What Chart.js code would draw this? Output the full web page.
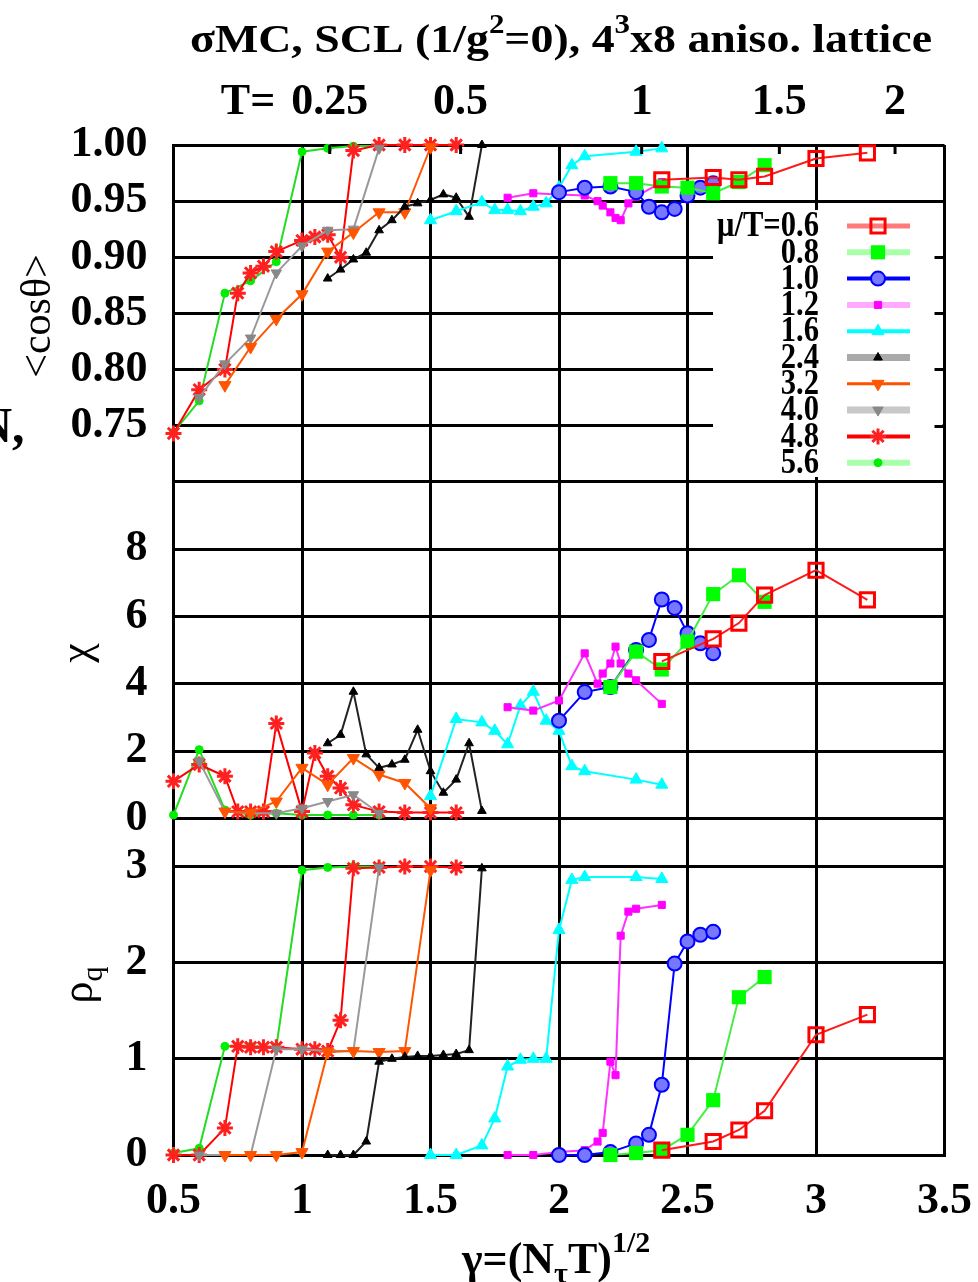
<!DOCTYPE html>
<html>
<head>
<meta charset="utf-8">
<script src="https://cdn.jsdelivr.net/npm/chart.js@4.4.1/dist/chart.umd.min.js"></script>
<style>
  html, body { margin: 0; padding: 0; background: #fff; }
  canvas { display: block; }
</style>
</head>
<body>
<canvas id="chart" width="978" height="1282"></canvas>
<script>
// ---------------------
// DATA
// ---------------------
const muLabels = ['0.6', '0.8', '1.0', '1.2', '1.6', '2.4', '3.2', '4.0', '4.8', '5.6'];
const tTicks = [0.25, 0.5, 1, 1.5, 2];

// mu/T = 0.6
const g06   = [2.4, 2.6, 2.7, 2.8, 3.0, 3.2];
const cos06 = [0.969, 0.971, 0.969, 0.972, 0.988, 0.993];
const chi06 = [4.66, 5.33, 5.8, 6.63, 7.37, 6.49];
const rho06 = [0.05, 0.14, 0.26, 0.46, 1.25, 1.46];

// mu/T = 0.8
const g08   = [2.2, 2.3, 2.4, 2.5, 2.6, 2.7, 2.8];
const cos08 = [0.966, 0.966, 0.963, 0.962, 0.957, 0.967, 0.982];
const chi08 = [3.9, 4.95, 4.42, 5.25, 6.66, 7.22, 6.43];
const rho08 = [0.0, 0.02, 0.05, 0.21, 0.57, 1.64, 1.85];

// mu/T = 1.0
const g10   = [2.0, 2.1, 2.2, 2.3, 2.35, 2.4, 2.45, 2.5, 2.55, 2.6];
const cos10 = [0.958, 0.962, 0.963, 0.958, 0.945, 0.940, 0.943, 0.955, 0.962, 0.966];
const chi10 = [2.9, 3.75, 3.9, 5.0, 5.3, 6.5, 6.25, 5.5, 5.2, 4.9];
const rho10 = [0.0, 0.0, 0.03, 0.12, 0.21, 0.73, 1.99, 2.22, 2.29, 2.32];

// mu/T = 1.2
const g12   = [1.8, 1.9, 2.0, 2.1, 2.15, 2.17, 2.2, 2.22, 2.24, 2.27, 2.3, 2.4];
const cos12 = [0.953, 0.957, 0.956, 0.955, 0.950, 0.946, 0.940, 0.935, 0.933, 0.948, 0.954, 0.967];
const chi12 = [3.3, 3.2, 3.5, 4.9, 4.0, 4.3, 4.6, 5.1, 4.6, 4.3, 4.1, 3.4];
const rho12 = [0.0, 0.0, 0.03, 0.05, 0.14, 0.23, 0.97, 0.83, 2.28, 2.53, 2.56, 2.6];

// mu/T = 1.6
const g16   = [1.5, 1.6, 1.7, 1.75, 1.8, 1.85, 1.9, 1.95, 2.0, 2.05, 2.1, 2.3, 2.4];
const cos16 = [0.933, 0.941, 0.949, 0.942, 0.942, 0.941, 0.945, 0.948, 0.962, 0.982, 0.990, 0.994, 0.997];
const chi16 = [0.66, 2.95, 2.85, 2.6, 2.2, 3.35, 3.76, 2.9, 2.6, 1.55, 1.4, 1.15, 1.0];
const rho16 = [0.0, 0.0, 0.10, 0.38, 0.92, 0.99, 1.0, 1.0, 2.34, 2.86, 2.89, 2.89, 2.87];

// mu/T = 2.4
const g24   = [1.1, 1.15, 1.2, 1.25, 1.3, 1.35, 1.4, 1.45, 1.5, 1.55, 1.6, 1.65, 1.7];
const cos24 = [0.881, 0.889, 0.898, 0.904, 0.924, 0.933, 0.945, 0.948, 0.951, 0.956, 0.953, 0.936, 1.0];
const chi24 = [2.23, 2.48, 3.76, 1.9, 1.5, 1.6, 1.74, 2.63, 1.4, 0.76, 1.15, 2.23, 0.22];
const rho24 = [0.0, 0.0, 0.0, 0.14, 0.97, 1.0, 1.02, 1.03, 1.03, 1.04, 1.05, 1.09, 2.98];

// mu/T = 3.2
const g32   = [0.7, 0.8, 0.9, 1.0, 1.1, 1.2, 1.3, 1.4, 1.5];
const cos32 = [0.786, 0.82, 0.845, 0.867, 0.905, 0.922, 0.94, 0.94, 0.998];
const chi32 = [0.2, 0.17, 0.5, 1.5, 1.0, 1.79, 1.3, 1.05, 0.3];
const rho32 = [0.0, 0.0, 0.0, 0.03, 1.07, 1.08, 1.07, 1.08, 2.96];

// mu/T = 4.0
const g40   = [0.6, 0.7, 0.8, 0.9, 1.0, 1.1, 1.2, 1.3];
const cos40 = [0.775, 0.805, 0.828, 0.886, 0.91, 0.924, 0.925, 0.997];
const chi40 = [1.7, 0.2, 0.15, 0.15, 0.3, 0.5, 0.7, 0.15];
const rho40 = [0.0, 0.0, 0.0, 1.1, 1.1, 1.08, 1.08, 2.99];

// mu/T = 4.8
const g48   = [0.5, 0.6, 0.7, 0.75, 0.8, 0.85, 0.9, 1.0, 1.05, 1.1, 1.15, 1.2, 1.3, 1.4, 1.5, 1.6];
const cos48 = [0.743, 0.782, 0.800, 0.868, 0.886, 0.892, 0.905, 0.915, 0.918, 0.92, 0.90, 0.995, 1.0, 1.0, 1.0, 1.0];
const chi48 = [1.1, 1.6, 1.25, 0.2, 0.2, 0.2, 2.82, 0.2, 1.94, 1.25, 0.9, 0.4, 0.2, 0.17, 0.17, 0.17];
const rho48 = [0.0, 0.0, 0.28, 1.13, 1.12, 1.12, 1.12, 1.1, 1.1, 1.08, 1.4, 2.98, 2.99, 3.0, 3.0, 2.99];

// mu/T = 5.6
const g56   = [0.5, 0.6, 0.7, 0.8, 0.9, 1.0, 1.1, 1.2, 1.3];
const cos56 = [0.744, 0.772, 0.868, 0.879, 0.896, 0.994, 0.997, 0.999, 0.999];
const chi56 = [0.1, 2.04, 0.25, 0.1, 0.15, 0.1, 0.1, 0.1, 0.1];
const rho56 = [0.02, 0.07, 1.13, 1.13, 1.12, 2.96, 2.99, 3.0, 3.0];

const series = [
  { mu: '0.6', g: g06, cos: cos06, chi: chi06, rho: rho06 },
  { mu: '0.8', g: g08, cos: cos08, chi: chi08, rho: rho08 },
  { mu: '1.0', g: g10, cos: cos10, chi: chi10, rho: rho10 },
  { mu: '1.2', g: g12, cos: cos12, chi: chi12, rho: rho12 },
  { mu: '1.6', g: g16, cos: cos16, chi: chi16, rho: rho16 },
  { mu: '2.4', g: g24, cos: cos24, chi: chi24, rho: rho24 },
  { mu: '3.2', g: g32, cos: cos32, chi: chi32, rho: rho32 },
  { mu: '4.0', g: g40, cos: cos40, chi: chi40, rho: rho40 },
  { mu: '4.8', g: g48, cos: cos48, chi: chi48, rho: rho48 },
  { mu: '5.6', g: g56, cos: cos56, chi: chi56, rho: rho56 }
];

// ---------------------
// STYLES
// ---------------------
const styles = {
  '0.6': { line: '#ff1a1a', mark: '#ff0000', fill: 'rgba(0,0,0,0)', point: 'rect', r: 10, bw: 3, legLine: '#ff7a7a', legW: 5 },
  '0.8': { line: '#44ee44', mark: '#00ff00', fill: '#00ff00', point: 'rect', r: 10, bw: 0, legLine: '#aaffaa', legW: 6 },
  '1.0': { line: '#0000ff', mark: '#0000ff', fill: '#7777ff', point: 'circle', r: 7, bw: 2, legLine: '#0000ff', legW: 4 },
  '1.2': { line: '#ff33ff', mark: '#ff00ff', fill: '#ff00ff', point: 'rect', r: 5, bw: 1, legLine: '#ffaaff', legW: 6 },
  '1.6': { line: '#00ffff', mark: '#00ffff', fill: '#00ffff', point: 'triangle', r: 7, bw: 1, legLine: '#00ffff', legW: 4 },
  '2.4': { line: '#222222', mark: '#000000', fill: '#000000', point: 'triangle', r: 5, bw: 1, legLine: '#aaaaaa', legW: 7 },
  '3.2': { line: '#ff5500', mark: '#ff5500', fill: '#ff5500', point: 'triangle', rot: 180, r: 7, bw: 1, legLine: '#ff5000', legW: 3 },
  '4.0': { line: '#999999', mark: '#888888', fill: '#888888', point: 'triangle', rot: 180, r: 6, bw: 1, legLine: '#c8c8c8', legW: 7 },
  '4.8': { line: '#ff0000', mark: '#ff2020', fill: '#ff2020', point: 'star', r: 8, bw: 3, legLine: '#ff0000', legW: 4 },
  '5.6': { line: '#22dd22', mark: '#00ee00', fill: '#00ee00', point: 'circle', r: 4, bw: 1, legLine: '#aaffaa', legW: 6 }
};

const SERIF = '"Liberation Serif", "Times New Roman", serif';
const tickFont = { family: SERIF, size: 44, weight: 'bold' };

// top axis: temperature T placed on the gamma axis
const gammaOfT = T => Math.sqrt(5.55 * T - 0.16);

// ---------------------
// DATASETS
// ---------------------
const panels = [['yTop', 'cos'], ['yMid', 'chi'], ['yBot', 'rho']];
const datasets = [];
series.forEach(s => {
  const st = styles[s.mu];
  panels.forEach(([axis, key]) => {
    datasets.push({
      label: s.mu + ' ' + key,
      yAxisID: axis,
      data: s.g.map((g, i) => ({ x: g, y: s[key][i] })),
      borderColor: st.line,
      borderWidth: 2,
      pointStyle: st.point,
      pointRadius: st.r,
      pointRotation: st.rot || 0,
      pointBorderColor: st.mark,
      pointBackgroundColor: st.fill,
      pointBorderWidth: st.bw,
      tension: 0,
      fill: false,
      clip: false
    });
  });
});

function yAxis(min, max, step, labelFn) {
  return {
    type: 'linear',
    position: 'left',
    stack: 'panels',
    stackWeight: 1,
    min: min,
    max: max,
    ticks: { stepSize: step, font: tickFont, color: '#000', padding: 26, autoSkip: false, includeBounds: false, callback: labelFn },
    grid: { color: '#000', lineWidth: 3, drawTicks: false },
    border: { color: '#000', width: 3 },
    afterFit(scale) { scale.width = 173.5; scale.paddingTop = 0; scale.paddingBottom = 0; }
  };
}

// ---------------------
// TEXT HELPERS
// ---------------------
function richText(ctx, parts, x, y, size, weight, opts) {
  opts = opts || {};
  const fontOf = p => weight + ' ' + Math.round(p.k ? size * 0.68 : size) + 'px ' + SERIF;
  let w = 0;
  parts.forEach(p => { ctx.font = fontOf(p); p.w = ctx.measureText(p.t).width; w += p.w; });
  const sx = opts.width ? opts.width / w : 1;
  ctx.save();
  ctx.translate(x, y);
  if (opts.angle) ctx.rotate(opts.angle);
  ctx.scale(sx, 1);
  let cx = opts.align === 'left' ? 0 : -w / 2;
  ctx.textBaseline = 'alphabetic';
  ctx.textAlign = 'left';
  parts.forEach(p => {
    ctx.font = fontOf(p);
    const dy = p.k === 1 ? -size * 0.48 : p.k === -1 ? size * 0.22 : 0;
    ctx.fillText(p.t, cx, dy);
    cx += p.w;
  });
  ctx.restore();
}

const decor = {
  id: 'decor',
  afterDraw(chart) {
    const ctx = chart.ctx;
    const xs = chart.scales.x;
    const yT = chart.scales.yTop;
    const area = chart.chartArea;
    ctx.save();
    ctx.fillStyle = '#000';
    ctx.strokeStyle = '#000';

    // title
    richText(ctx, [
      { t: '\u03c3MC, SCL (1/g' }, { t: '2', k: 1 }, { t: '=0), 4' }, { t: '3', k: 1 }, { t: 'x8 aniso. lattice' }
    ], 561, 52, 40, 'bold', { width: 742 });

    // top T axis
    ctx.font = 'bold 44px ' + SERIF;
    ctx.textBaseline = 'alphabetic';
    ctx.textAlign = 'center';
    ctx.lineWidth = 3;
    tTicks.forEach((T, i) => {
      const px = xs.getPixelForValue(gammaOfT(T));
      const txt = String(T);
      ctx.fillText(txt, px, 114);
      if (i === 0) {
        const w = ctx.measureText(txt).width;
        ctx.textAlign = 'right';
        ctx.fillText('T=', px - w / 2 - 16, 114);
        ctx.textAlign = 'center';
      }
      ctx.beginPath();
      ctx.moveTo(px, area.top);
      ctx.lineTo(px, area.top + 9);
      ctx.stroke();
    });

    // axis titles
    richText(ctx, [{ t: '<cos\u03b8>' }], 50, 316, 42, 'normal', { angle: -Math.PI / 2 });
    richText(ctx, [{ t: '\u03c7' }], 90, 653, 44, 'normal', { angle: -Math.PI / 2 });
    richText(ctx, [{ t: '\u03c1' }, { t: 'q', k: -1 }], 92, 985, 44, 'normal', { angle: -Math.PI / 2 });
    richText(ctx, [{ t: '\u03b3=(N' }, { t: '\u03c4', k: -1 }, { t: 'T)' }, { t: '1/2', k: 1 }], 462, 1273, 44, 'bold', { align: 'left' });

    // cut-off letter at the left edge
    ctx.font = 'bold 50px ' + SERIF;
    ctx.textAlign = 'left';
    ctx.fillText('N,', -24, 442);

    // legend box
    const boxL = 713, boxR = area.right - 2, boxT = 210, boxB = 477;
    ctx.fillStyle = '#fff';
    ctx.fillRect(boxL, boxT, boxR - boxL, boxB - boxT);
    ctx.strokeStyle = '#000';
    ctx.lineWidth = 3;
    [0.95, 0.90, 0.85, 0.80, 0.75].forEach(v => {
      const py = Math.round(yT.getPixelForValue(v)) + 0.5;
      ctx.beginPath();
      ctx.moveTo(area.right - 10, py);
      ctx.lineTo(area.right, py);
      ctx.stroke();
    });

    const rowY0 = 226, rowDy = 26.3;
    muLabels.forEach((mu, i) => {
      const st = styles[mu];
      const y = rowY0 + i * rowDy;
      // label
      ctx.save();
      ctx.fillStyle = '#000';
      ctx.font = 'bold 36px ' + SERIF;
      ctx.textAlign = 'right';
      ctx.textBaseline = 'middle';
      ctx.translate(819, y + 1);
      ctx.scale(0.85, 1);
      ctx.fillText(i === 0 ? '\u03bc/T=' + mu : mu, 0, 0);
      ctx.restore();
      // line sample
      ctx.strokeStyle = st.legLine;
      ctx.lineWidth = st.legW;
      ctx.beginPath();
      ctx.moveTo(847, y);
      ctx.lineTo(910, y);
      ctx.stroke();
      // marker
      ctx.fillStyle = st.fill;
      ctx.strokeStyle = st.mark;
      ctx.lineWidth = st.bw;
      if (Chart.helpers && Chart.helpers.drawPoint) {
        Chart.helpers.drawPoint(ctx, { pointStyle: st.point, radius: st.r, rotation: st.rot || 0, borderWidth: st.bw }, 878, y);
      }
    });
    ctx.restore();
  }
};

// ---------------------
// CHART
// ---------------------
const ctx = document.getElementById('chart').getContext('2d');

new Chart(ctx, {
  type: 'line',
  data: { datasets: datasets },
  options: {
    responsive: false,
    animation: false,
    events: [],
    layout: { padding: { top: 145, right: 33.5, left: 0, bottom: 0 } },
    plugins: {
      legend: { display: false },
      tooltip: { enabled: false },
      title: { display: false }
    },
    scales: {
      x: {
        type: 'linear',
        min: 0.5,
        max: 3.5,
        ticks: {
          stepSize: 0.5, font: tickFont, color: '#000', padding: 20, maxRotation: 0, autoSkip: false,
          callback: v => String(Math.round(v * 10) / 10)
        },
        grid: { color: '#000', lineWidth: 3, drawTicks: false },
        border: { color: '#000', width: 3 },
        afterFit(scale) { scale.height = 127; scale.paddingLeft = 0; scale.paddingRight = 0; }
      },
      yBot: yAxis(0, 3.5, 1, v => String(Math.round(v))),
      yMid: yAxis(0, 10, 2, v => (v > 9 ? '' : String(Math.round(v)))),
      yTop: yAxis(0.70, 1.00, 0.05, v => (v < 0.72 ? '' : v.toFixed(2)))
    }
  },
  plugins: [decor]
});
</script>
</body>
</html>
